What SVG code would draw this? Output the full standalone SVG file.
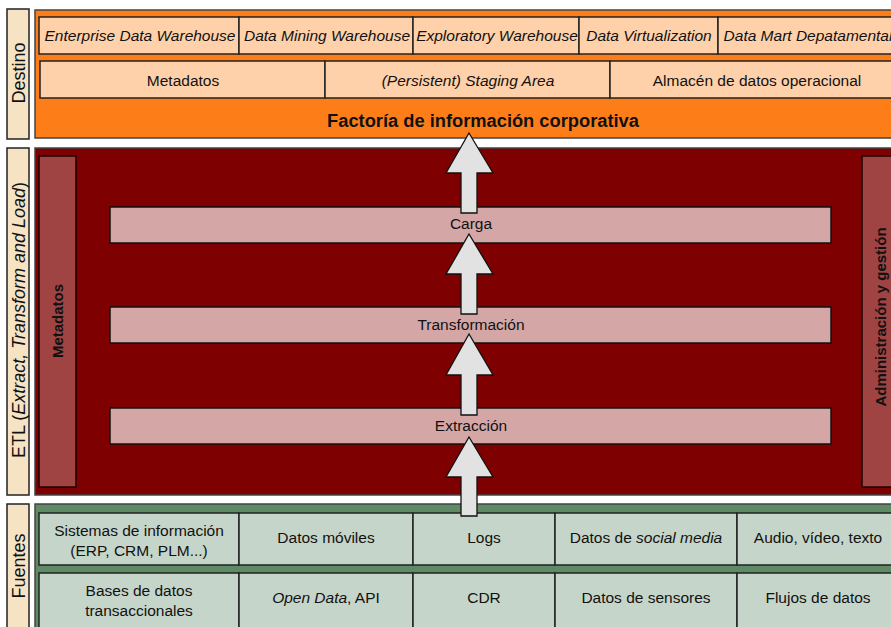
<svg xmlns="http://www.w3.org/2000/svg" width="891" height="627" viewBox="0 0 891 627">
  <style>
    text { font-family: "Liberation Sans", Arial, sans-serif; fill: #111; }
    .side { fill: #f6e3c4; stroke: #222; stroke-width: 1.5; }
    .sidet { font-size: 18px; }
    .panel { stroke: #444; stroke-width: 1.5; }
    .peach { fill: #ffd1aa; stroke: #222; stroke-width: 1.5; }
    .step { fill: #d5a6a6; stroke: #111; stroke-width: 1.5; }
    .bar { fill: #a04343; stroke: #1a0000; stroke-width: 1.5; }
    .cell { fill: #c6d5c9; stroke: #222; stroke-width: 1.5; }
    .lbl { font-size: 15.5px; text-anchor: middle; }
    .it { font-style: italic; }
    .bold { font-weight: bold; }
    .arrow { fill: #e2e2e2; stroke: #111; stroke-width: 1.3; stroke-linejoin: miter; }
  </style>

  <!-- side labels -->
  <g id="label-destino">
    <rect class="side" x="7" y="9" width="22" height="130"/>
    <text class="sidet" transform="translate(25,73) rotate(-90)" text-anchor="middle">Destino</text>
  </g>
  <g id="label-etl">
    <rect class="side" x="7" y="148" width="22" height="347"/>
    <text class="sidet" transform="translate(25,320) rotate(-90)" text-anchor="middle">ETL (<tspan class="it">Extract, Transform and Load</tspan>)</text>
  </g>
  <g id="label-fuentes">
    <rect class="side" x="7" y="504" width="22" height="130"/>
    <text class="sidet" transform="translate(25,566) rotate(-90)" text-anchor="middle">Fuentes</text>
  </g>

  <!-- Destino layer -->
  <g id="destino">
    <rect class="panel" x="35" y="10" width="870" height="128" fill="#fd7e19"/>
    <rect class="peach" x="39" y="17" width="200" height="37"/>
    <rect class="peach" x="239" y="17" width="174" height="37"/>
    <rect class="peach" x="413" y="17" width="166" height="37"/>
    <rect class="peach" x="579" y="17" width="139" height="37"/>
    <rect class="peach" x="718" y="17" width="182" height="37"/>
    <text class="lbl it" x="140" y="41">Enterprise Data Warehouse</text>
    <text class="lbl it" x="327" y="41">Data Mining Warehouse</text>
    <text class="lbl it" x="497" y="41">Exploratory Warehouse</text>
    <text class="lbl it" x="649" y="41">Data Virtualization</text>
    <text class="lbl it" x="808" y="41">Data Mart Depatamental</text>
    <rect class="peach" x="40" y="61" width="285" height="37"/>
    <rect class="peach" x="325" y="61" width="285" height="37"/>
    <rect class="peach" x="610" y="61" width="294" height="37"/>
    <text class="lbl" x="183" y="86">Metadatos</text>
    <text class="lbl it" x="468" y="86">(Persistent) Staging Area</text>
    <text class="lbl" x="757" y="86">Almacén de datos operacional</text>
    <text class="bold" x="483" y="127" font-size="18.3" text-anchor="middle">Factoría de información corporativa</text>
  </g>

  <!-- ETL layer -->
  <g id="etl">
    <rect class="panel" x="35" y="148" width="870" height="347" fill="#7f0000"/>
    <rect class="bar" x="39" y="156" width="37" height="331"/>
    <text class="bold" font-size="15" transform="translate(63,321) rotate(-90)" text-anchor="middle">Metadatos</text>
    <rect class="bar" x="862" y="156" width="40" height="331"/>
    <text class="bold" font-size="15" transform="translate(886,317) rotate(-90)" text-anchor="middle">Administración y gestión</text>
  </g>

  <g id="step-carga"><rect class="step" x="110" y="207" width="721" height="36"/></g>
  <g id="step-transformacion"><rect class="step" x="110" y="307" width="721" height="36"/></g>
  <g id="step-extraccion"><rect class="step" x="110" y="408" width="721" height="36"/></g>

  <!-- Fuentes layer -->
  <g id="fuentes">
    <rect class="panel" x="35" y="504" width="870" height="130" fill="#5e8a66"/>
    <rect class="cell" x="39" y="513" width="200" height="52"/>
    <rect class="cell" x="239" y="513" width="174" height="52"/>
    <rect class="cell" x="413" y="513" width="142" height="52"/>
    <rect class="cell" x="555" y="513" width="182" height="52"/>
    <rect class="cell" x="737" y="513" width="163" height="52"/>
    <rect class="cell" x="39" y="573" width="200" height="60"/>
    <rect class="cell" x="239" y="573" width="174" height="60"/>
    <rect class="cell" x="413" y="573" width="142" height="60"/>
    <rect class="cell" x="555" y="573" width="182" height="60"/>
    <rect class="cell" x="737" y="573" width="163" height="60"/>
    <text class="lbl" x="139" y="536">Sistemas de información</text>
    <text class="lbl" x="139" y="556">(ERP, CRM, PLM...)</text>
    <text class="lbl" x="326" y="543">Datos móviles</text>
    <text class="lbl" x="484" y="543">Logs</text>
    <text class="lbl" x="646" y="543">Datos de <tspan class="it">social media</tspan></text>
    <text class="lbl" x="818" y="543">Audio, vídeo, texto</text>
    <text class="lbl" x="139" y="596">Bases de datos</text>
    <text class="lbl" x="139" y="616">transaccionales</text>
    <text class="lbl" x="326" y="603"><tspan class="it">Open Data</tspan>, API</text>
    <text class="lbl" x="484" y="603">CDR</text>
    <text class="lbl" x="646" y="603">Datos de sensores</text>
    <text class="lbl" x="818" y="603">Flujos de datos</text>
  </g>

  <!-- flow arrows -->
  <g id="connectors">
    <path class="arrow" d="M469,133 L493,173 L477,173 L477,213 L461,213 L461,173 L446,173 Z"/>
    <path class="arrow" d="M469,234 L493,274 L477,274 L477,314 L461,314 L461,274 L446,274 Z"/>
    <path class="arrow" d="M469,334 L493,375 L477,375 L477,415 L461,415 L461,375 L446,375 Z"/>
    <path class="arrow" d="M469,437 L493,477 L477,477 L477,516 L461,516 L461,477 L446,477 Z"/>
  </g>

  <!-- step labels drawn over the arrows -->
  <g id="step-labels">
    <text class="lbl" x="471" y="229">Carga</text>
    <text class="lbl" x="471" y="330">Transformación</text>
    <text class="lbl" x="471" y="431">Extracción</text>
  </g>
</svg>
